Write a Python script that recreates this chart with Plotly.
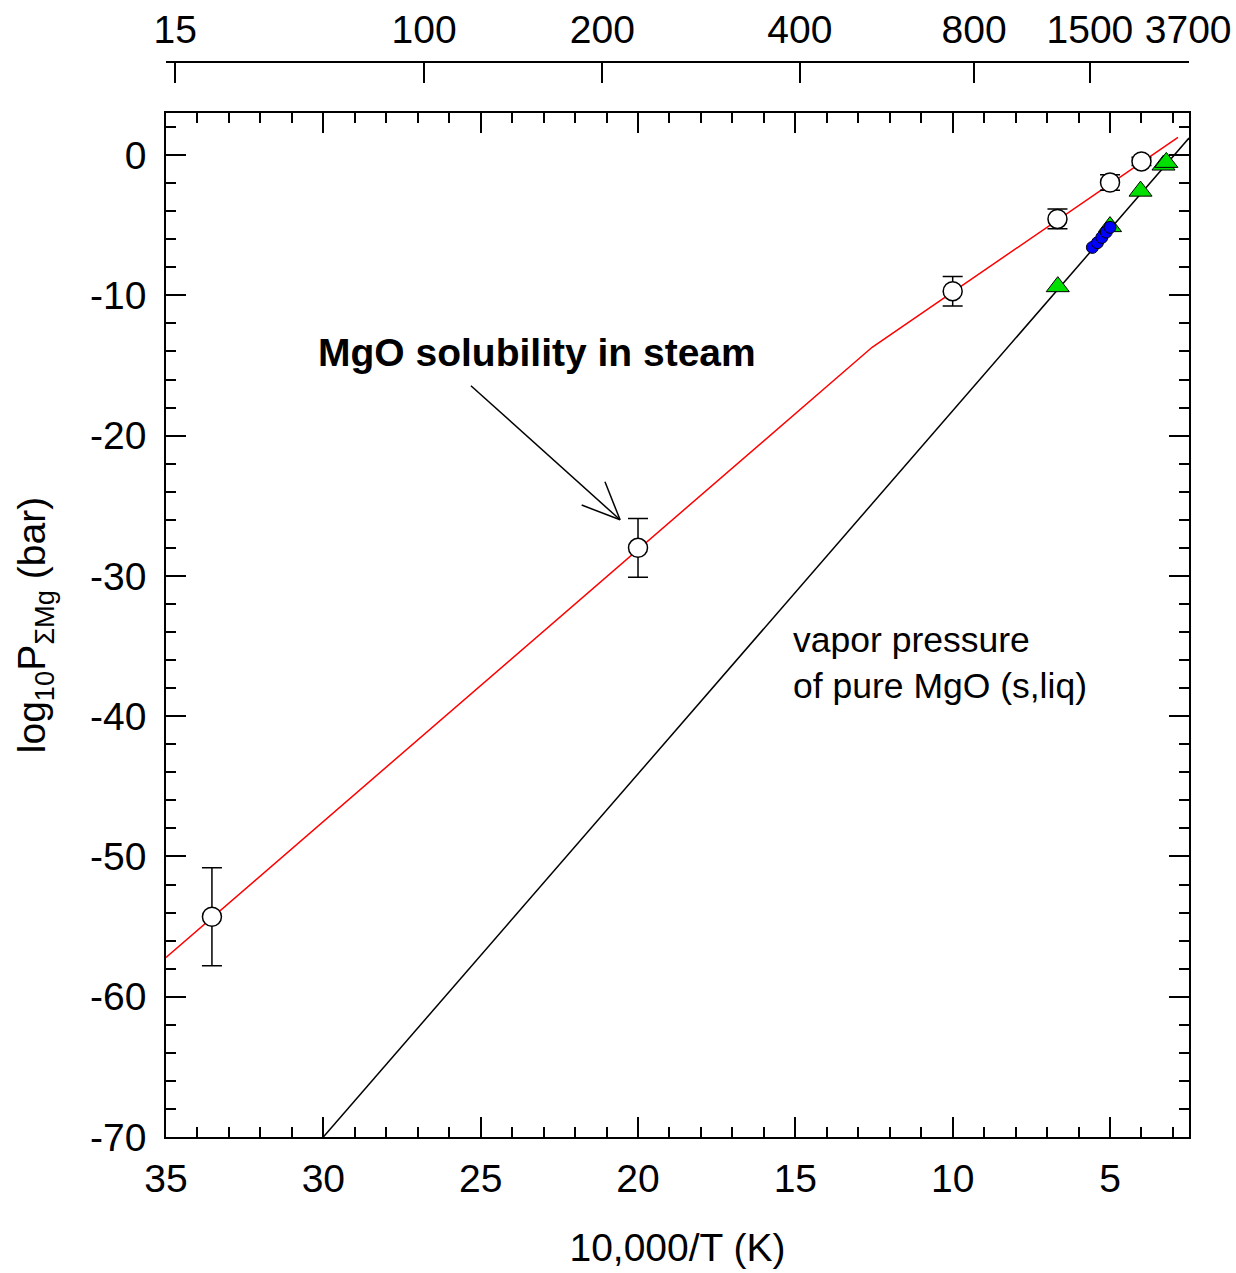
import plotly.graph_objects as go

# ---- data ----
# open circles: MgO solubility in steam (10,000/T, log10 P, error)
circ_x = [33.54, 20.0, 10.0, 6.67, 5.0, 4.0]
circ_y = [-54.3, -28.0, -9.7, -4.55, -1.95, -0.45]
circ_err = [3.5, 2.1, 1.05, 0.7, 0.55, 0.3]

# green triangles
tri_x = [6.66, 5.0, 4.03, 3.30, 3.21]
tri_y = [-9.38, -5.1, -2.57, -0.71, -0.52]

# blue dots
blue_x = [5.56, 5.40, 5.26, 5.12, 5.00]
blue_y = [-6.58, -6.25, -5.87, -5.49, -5.15]

# red fit line (solubility in steam)
red_x = [35.0, 12.56, 2.84]
red_y = [-57.2, -13.7, 1.26]

# black line: vapor pressure of pure MgO
blk_x = [30.0, 2.49]
blk_y = [-70.0, 1.21]

# top axis: temperature in deg C
top_labels = [15, 100, 200, 400, 800, 1500, 3700]
top_pos = [10000.0 / (t + 273.15) for t in top_labels]

y_ticks = [0, -10, -20, -30, -40, -50, -60, -70]
x_ticks = [35, 30, 25, 20, 15, 10, 5]

FONT = "Liberation Sans, Arial, sans-serif"
XR = [35, 2.49]
YR = [-70, 3]

fig = go.Figure()
fig.add_trace(go.Scatter(x=red_x, y=red_y, mode="lines",
                         line=dict(color="#ff0000", width=1.5), hoverinfo="skip"))
fig.add_trace(go.Scatter(x=blk_x, y=blk_y, mode="lines",
                         line=dict(color="black", width=1.5), hoverinfo="skip"))
fig.add_trace(go.Scatter(x=circ_x, y=circ_y, mode="markers",
                         marker=dict(symbol="circle", size=19, color="white",
                                     line=dict(color="black", width=1.5)),
                         error_y=dict(type="data", array=circ_err, visible=True,
                                      color="black", thickness=1.5, width=10)))
fig.add_trace(go.Scatter(x=tri_x, y=tri_y, mode="markers",
                         marker=dict(symbol="triangle-up", size=20, color="#00e000",
                                     line=dict(color="black", width=1))))
fig.add_trace(go.Scatter(x=blue_x, y=blue_y, mode="markers",
                         marker=dict(symbol="circle", size=12, color="#0000ff",
                                     line=dict(color="black", width=1))))
# invisible trace on top axis
fig.add_trace(go.Scatter(x=[XR[0], XR[1]], y=[YR[0], YR[0]], xaxis="x2", mode="lines",
                         line=dict(width=0), showlegend=False, hoverinfo="skip"))

# arrow (open head) pointing to the 20 point
tip = (20.57, -26.0)
arrow_segments = [((25.31, -16.44), tip), ((21.79, -24.95), tip), ((21.05, -23.29), tip)]
for (x0, y0), (x1, y1) in arrow_segments:
    fig.add_shape(type="line", x0=x0, y0=y0, x1=x1, y1=y1, xref="x", yref="y",
                  line=dict(color="black", width=1.5))

fig.add_annotation(x=30.23, y=-14.05, xref="x", yref="y", xanchor="left", yanchor="middle",
                   text="<b>MgO solubility in steam</b>", showarrow=False,
                   font=dict(family=FONT, size=39, color="black"))
fig.add_annotation(x=15.13, y=-36.2, xref="x", yref="y", xanchor="left", yanchor="middle",
                   text="vapor pressure<br>of pure MgO (s,liq)", showarrow=False, align="left",
                   font=dict(family=FONT, size=35.5, color="black"))

axis_common = dict(showline=True, linecolor="black", linewidth=1.5, showgrid=False,
                   zeroline=False, ticks="inside", tickcolor="black", tickwidth=1.5,
                   automargin=False,
                   tickfont=dict(family=FONT, size=39, color="black"))

fig.update_layout(
    width=1236, height=1273,
    margin=dict(l=166, r=47, t=62, b=136),
    paper_bgcolor="white", plot_bgcolor="white",
    showlegend=False,
    xaxis=dict(**axis_common, range=XR, tickvals=x_ticks, ticktext=[str(v) for v in x_ticks],
               ticklen=20, mirror="ticks", anchor="y",
               minor=dict(dtick=1, ticklen=10, ticks="inside", tickcolor="black", tickwidth=1.5),
               title=dict(text="10,000/T (K)", font=dict(family=FONT, size=39, color="black"),
                          standoff=35),
               ticklabelstandoff=6),
    xaxis2=dict(**axis_common, range=XR, overlaying="x", side="top", anchor="free",
                position=1, tickvals=top_pos, ticktext=[str(t) for t in top_labels],
                ticklen=20, ticklabelstandoff=3),
    yaxis=dict(**axis_common, range=YR, domain=[0, (1137 - 113) / (1273 - 62 - 136)],
               tickvals=y_ticks, ticktext=[str(v) for v in y_ticks],
               ticklen=20, mirror="ticks",
               minor=dict(dtick=2, tick0=0, ticklen=10, ticks="inside", tickcolor="black", tickwidth=1.5),
               title=dict(text="log<sub>10</sub>P<sub>ΣMg</sub> (bar)",
                          font=dict(family=FONT, size=39, color="black"), standoff=32),
               ticklabelstandoff=10),
)

fig.write_html("out.html")
